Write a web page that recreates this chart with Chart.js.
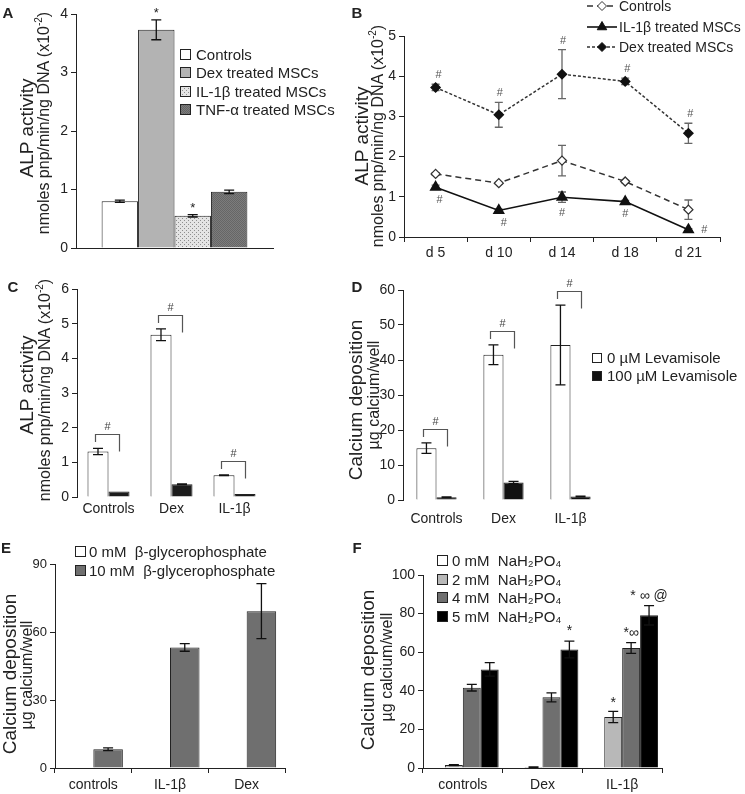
<!DOCTYPE html>
<html>
<head>
<meta charset="utf-8">
<script src="https://cdn.jsdelivr.net/npm/chart.js@4/dist/chart.umd.min.js"></script>
<style>
  body { margin: 0; background: #fff; }
  #fig { position: relative; width: 745px; height: 794px; overflow: hidden;
         font-family: "Liberation Sans", Arial, sans-serif; color: #222; }
  canvas { position: absolute; }
  .letter { position: absolute; font-weight: bold; font-size: 15px; transform: translate(-50%, -50%); }
  .yt { position: absolute; white-space: nowrap; transform: translate(-50%, -50%) rotate(-90deg); z-index: 2; }
  .big { font-size: 19px; }
  .small { font-size: 16px; }
  sup { font-size: 10px; }
</style>
</head>
<body>
<div id="fig">
  <canvas id="chartA" width="372" height="262" style="left:0;top:0"></canvas>
  <canvas id="chartB" width="373" height="262" style="left:372px;top:0"></canvas>
  <canvas id="chartC" width="372" height="264" style="left:0;top:262px"></canvas>
  <canvas id="chartD" width="373" height="264" style="left:372px;top:262px"></canvas>
  <canvas id="chartE" width="372" height="268" style="left:0;top:526px"></canvas>
  <canvas id="chartF" width="373" height="268" style="left:372px;top:526px"></canvas>

  <div class="letter" style="left:8px;top:12px">A</div>
  <div class="letter" style="left:357px;top:12px">B</div>
  <div class="letter" style="left:13px;top:286px">C</div>
  <div class="letter" style="left:357px;top:286px">D</div>
  <div class="letter" style="left:6px;top:547px">E</div>
  <div class="letter" style="left:357px;top:547px">F</div>

  <div class="yt big" style="left:27px;top:128px">ALP activity</div>
  <div class="yt small" style="left:43px;top:123px">nmoles pnp/min/ng DNA (x10<sup>-2</sup>)</div>
  <div class="yt big" style="left:362px;top:136px">ALP activity</div>
  <div class="yt small" style="left:377px;top:136px">nmoles pnp/min/ng DNA (x10<sup>-2</sup>)</div>
  <div class="yt big" style="left:27px;top:385px">ALP activity</div>
  <div class="yt small" style="left:44px;top:390px">nmoles pnp/min/ng DNA (x10<sup>-2</sup>)</div>
  <div class="yt big" style="left:356px;top:400px">Calcium deposition</div>
  <div class="yt small" style="left:374px;top:395px">µg calcium/well</div>
  <div class="yt big" style="left:10px;top:674px">Calcium deposition</div>
  <div class="yt small" style="left:27px;top:675px">µg calcium/well</div>
  <div class="yt big" style="left:368px;top:670px">Calcium deposition</div>
  <div class="yt small" style="left:387px;top:667px">µg calcium/well</div>
</div>

<script>
// A: ALP activity, one group of four treatments
const aSeries = ['Controls', 'Dex treated MSCs', 'IL-1β treated MSCs', 'TNF-α treated MSCs'];
const aValues = [0.80, 3.73, 0.55, 0.96];
const aErrors = [0.02, 0.17, 0.02, 0.03];
const aMarks = ['', '*', '*', ''];

// B: ALP activity over time
const bDays = ['d 5', 'd 10', 'd 14', 'd 18', 'd 21'];
const bSeries = ['Controls', 'IL-1β treated MSCs', 'Dex treated MSCs'];
const bControls = [1.57, 1.34, 1.90, 1.38, 0.68];
const bControlsErr = [0.03, 0.02, 0.38, 0.03, 0.24];
const bIL = [1.24, 0.66, 0.99, 0.88, 0.18];
const bILErr = [0.05, 0.03, 0.13, 0.03, 0.03];
const bDex = [3.72, 3.04, 4.05, 3.87, 2.58];
const bDexErr = [0.08, 0.31, 0.61, 0.08, 0.25];
const bILMarks = ['#', '#', '#', '#', '#'];
const bDexMarks = ['#', '#', '#', '#', '#'];

// C and D: levamisole
const cdGroups = ['Controls', 'Dex', 'IL-1β'];
const cdSeries = ['0 µM Levamisole', '100 µM Levamisole'];
const cNoLev = [1.31, 4.68, 0.63];
const cNoLevErr = [0.09, 0.17, 0.01];
const cLev = [0.16, 0.37, 0.09];
const cLevErr = [0, 0.01, 0];
const cMarks = ['#', '#', '#'];
const dNoLev = [14.8, 41.5, 44.3];
const dNoLevErr = [1.5, 2.8, 11.4];
const dLev = [0.8, 5.0, 1.0];
const dLevErr = [0.1, 0.3, 0.1];
const dMarks = ['#', '#', '#'];

// E: beta-glycerophosphate
const eGroups = ['controls', 'IL-1β', 'Dex'];
const eSeries = ['0 mM  β-glycerophosphate', '10 mM  β-glycerophosphate'];
const eZero = [0, 0, 0];
const eTen = [8.3, 53.2, 69.2];
const eTenErr = [0.6, 1.7, 12.1];

// F: phosphate
const fGroups = ['controls', 'Dex', 'IL-1β'];
const fSeries = ['0 mM  NaH₂PO₄', '2 mM  NaH₂PO₄', '4 mM  NaH₂PO₄', '5 mM  NaH₂PO₄'];
const f0 = [0, 0, 0];
const f2 = [1.5, 0.5, 26.4];
const f2Err = [0.2, 0.1, 2.9];
const f4 = [41.6, 36.6, 62.2];
const f4Err = [1.7, 2.3, 2.8];
const f5 = [51.1, 61.4, 79.1];
const f5Err = [3.5, 4.3, 5.0];
const f2Marks = ['', '', '*'];
const f4Marks = ['', '', '*∞'];
const f5Marks = ['', '*', '* ∞ @'];

const FONT = '"Liberation Sans", Arial, sans-serif';
Chart.defaults.font.family = FONT;
Chart.defaults.color = '#222';
Chart.defaults.animation = false;

function pattern(base, dot, step) {
  const c = document.createElement('canvas');
  c.width = step; c.height = step;
  const g = c.getContext('2d');
  g.fillStyle = base; g.fillRect(0, 0, step, step);
  g.fillStyle = dot;
  g.fillRect(0, 0, 1, 1);
  g.fillRect(step / 2, step / 2, 1, 1);
  return g.createPattern(c, 'repeat');
}

function yAxis(max, step, w, size) {
  return {
    min: 0, max: max,
    ticks: { stepSize: step, font: { size: size || 14 }, color: '#222', padding: 3 },
    grid: { drawOnChartArea: false, drawTicks: true, tickLength: 5, color: '#222' },
    border: { display: true, color: '#222' },
    afterFit: s => { s.width = w; }
  };
}

function xAxis(h, opts) {
  const o = opts || {};
  return {
    offset: true,
    ticks: { display: o.labels !== false, font: { size: 14 }, color: '#222', padding: o.pad || 3 },
    grid: o.ticks
      ? { offset: true, drawOnChartArea: false, drawTicks: true, tickLength: 5, color: '#222' }
      : { display: false, drawTicks: false },
    border: { display: o.line !== false, color: '#222' },
    afterFit: s => { s.height = h; }
  };
}

function options(pad, x, y) {
  return {
    responsive: false,
    animation: false,
    layout: { padding: pad },
    plugins: { legend: { display: false }, tooltip: { enabled: false } },
    scales: { x: x, y: y }
  };
}

// error bars from each dataset's err array
function makeErrBars(color, cap, behind) {
  const draw = chart => {
    const ctx = chart.ctx, y = chart.scales.y;
    ctx.save();
    ctx.strokeStyle = color;
    ctx.lineWidth = 1.3;
    chart.data.datasets.forEach((ds, di) => {
      if (!ds.err) return;
      chart.getDatasetMeta(di).data.forEach((el, i) => {
        const e = ds.err[i];
        if (!e) return;
        const top = y.getPixelForValue(ds.data[i] + e);
        const bot = y.getPixelForValue(ds.data[i] - e);
        ctx.beginPath();
        ctx.moveTo(el.x, top); ctx.lineTo(el.x, bot);
        ctx.moveTo(el.x - cap, top); ctx.lineTo(el.x + cap, top);
        ctx.moveTo(el.x - cap, bot); ctx.lineTo(el.x + cap, bot);
        ctx.stroke();
      });
    });
    ctx.restore();
  };
  return {
    id: 'errBars',
    beforeDatasetsDraw(chart) { if (behind) draw(chart); },
    afterDatasetsDraw(chart) { if (!behind) draw(chart); }
  };
}

// significance marks above (or below) the error bars
function makeMarks(items, font, color) {
  return {
    id: 'sigMarks',
    afterDatasetsDraw(chart) {
      const ctx = chart.ctx, y = chart.scales.y;
      ctx.save();
      ctx.font = font;
      ctx.fillStyle = color;
      ctx.textAlign = 'center';
      ctx.textBaseline = 'middle';
      items.forEach(it => {
        const ds = chart.data.datasets[it.ds];
        const meta = chart.getDatasetMeta(it.ds);
        it.marks.forEach((m, i) => {
          if (!m) return;
          const e = (ds.err && ds.err[i]) || 0;
          let py = it.below ? y.getPixelForValue(ds.data[i] - e) + it.gap
                            : y.getPixelForValue(ds.data[i] + e) - it.gap;
          if (it.dy) py += it.dy[i];
          ctx.fillText(m, meta.data[i].x + (it.dx ? it.dx[i] : 0), py);
        });
      });
      ctx.restore();
    }
  };
}

// bracket from the first bar to the second bar of each group
function makeBrackets(marks) {
  return {
    id: 'brackets',
    afterDatasetsDraw(chart) {
      const ctx = chart.ctx, y = chart.scales.y;
      const ds = chart.data.datasets[0];
      const m0 = chart.getDatasetMeta(0), m1 = chart.getDatasetMeta(1);
      ctx.save();
      ctx.strokeStyle = '#555';
      ctx.lineWidth = 1.2;
      ctx.fillStyle = '#444';
      ctx.font = '11px ' + FONT;
      ctx.textAlign = 'center';
      ctx.textBaseline = 'middle';
      marks.forEach((m, i) => {
        const x0 = Math.round(m0.data[i].x) - 2.5, x1 = Math.round(m1.data[i].x) + 0.5;
        const left = Math.round(y.getPixelForValue(ds.data[i] + (ds.err[i] || 0))) - 6;
        const top = left - 8 + 0.5;
        ctx.beginPath();
        ctx.moveTo(x0, left); ctx.lineTo(x0, top); ctx.lineTo(x1, top); ctx.lineTo(x1, top + 17);
        ctx.stroke();
        ctx.fillText(m, (x0 + x1) / 2, top - 8);
      });
      ctx.restore();
    }
  };
}

function makeLegend(o) {
  return {
    id: 'panelLegend',
    afterDraw(chart) {
      const ctx = chart.ctx;
      ctx.save();
      ctx.font = (o.size || 15) + 'px ' + FONT;
      ctx.textBaseline = 'middle';
      chart.data.datasets.forEach((ds, i) => {
        const y = Math.round(o.y + i * o.rowH);
        if (o.type === 'line') {
          ctx.strokeStyle = ds.borderColor;
          ctx.lineWidth = ds.borderWidth;
          ctx.setLineDash(ds.borderDash || []);
          ctx.beginPath(); ctx.moveTo(o.x, y); ctx.lineTo(o.x + 30, y); ctx.stroke();
          ctx.setLineDash([]);
          ctx.fillStyle = ds.pointBackgroundColor;
          ctx.strokeStyle = ds.pointBorderColor;
          ctx.lineWidth = 1;
          Chart.helpers.drawPoint(ctx, { pointStyle: ds.pointStyle, radius: ds.pointRadius, borderWidth: 1, rotation: 0 }, o.x + 15, y);
        } else {
          const t = y - Math.round(o.box / 2);
          ctx.fillStyle = ds.backgroundColor;
          ctx.fillRect(o.x, t, o.box, o.box);
          ctx.strokeStyle = '#222';
          ctx.lineWidth = 1;
          ctx.strokeRect(o.x + 0.5, t + 0.5, o.box - 1, o.box - 1);
        }
        ctx.fillStyle = '#222';
        ctx.fillText(ds.label, o.textX, y + 1);
      });
      ctx.restore();
    }
  };
}

function bar(label, data, err, color, cat) {
  return { label: label, data: data, err: err, backgroundColor: color, borderColor: '#222',
           borderWidth: 1, categoryPercentage: cat, barPercentage: 1 };
}

// ---- A ----
const aColors = ['#ffffff', '#b3b3b3', pattern('#e4e4e4', '#8e8e8e', 4), pattern('#7c7c7c', '#666666', 2)];
new Chart(document.getElementById('chartA'), {
  type: 'bar',
  data: {
    labels: [''],
    datasets: aSeries.map((s, i) => bar(s, [aValues[i]], [aErrors[i]], aColors[i], 0.74))
  },
  options: options({ left: 46, right: 99, top: 14, bottom: 0 },
    xAxis(14, { labels: false }), yAxis(4, 1, 30)),
  plugins: [makeErrBars('#111', 5, false),
            makeMarks(aSeries.map((s, i) => ({ ds: i, marks: [aMarks[i]], gap: 6 })), '13px ' + FONT, '#222'),
            makeLegend({ x: 180, y: 55, rowH: 18.3, box: 11, textX: 196 })]
});

// ---- B ----
new Chart(document.getElementById('chartB'), {
  type: 'line',
  data: {
    labels: bDays,
    datasets: [
      { label: bSeries[0], data: bControls, err: bControlsErr, borderColor: '#333', borderWidth: 1.5,
        borderDash: [6, 4], pointStyle: 'rectRot', pointRadius: 4.5, pointBackgroundColor: '#fff',
        pointBorderColor: '#333', pointBorderWidth: 1.3, tension: 0, fill: false },
      { label: bSeries[1], data: bIL, err: bILErr, borderColor: '#111', borderWidth: 1.6,
        pointStyle: 'triangle', pointRadius: 5.5, pointBackgroundColor: '#111',
        pointBorderColor: '#111', tension: 0, fill: false },
      { label: bSeries[2], data: bDex, err: bDexErr, borderColor: '#333', borderWidth: 1.5,
        borderDash: [3, 2], pointStyle: 'rectRot', pointRadius: 4.5, pointBackgroundColor: '#111',
        pointBorderColor: '#111', tension: 0, fill: false }
    ]
  },
  options: options({ left: 6, right: 25, top: 36, bottom: 0 },
    xAxis(25, { ticks: true }), yAxis(5, 1, 26)),
  plugins: [makeErrBars('#666', 4, true),
            makeMarks([
              { ds: 2, marks: bDexMarks, gap: 9, dx: [3, 1, 1, 2, 2] },
              { ds: 1, marks: bILMarks, below: true, gap: 11, dx: [4, 5, 0, 0, 16], dy: [0, 0, 0, 0, -12] }
            ], '11px ' + FONT, '#555'),
            makeLegend({ type: 'line', x: 215, y: 6, rowH: 20.5, textX: 247, size: 14 })]
});

// ---- C ----
new Chart(document.getElementById('chartC'), {
  type: 'bar',
  data: {
    labels: cdGroups,
    datasets: [bar(cdSeries[0], cNoLev, cNoLevErr, '#ffffff', 0.667),
               bar(cdSeries[1], cLev, cLevErr, '#1c1c1c', 0.667)]
  },
  options: options({ left: 47, right: 106, top: 27, bottom: 0 },
    xAxis(29, { line: false, pad: 4 }), yAxis(6, 1, 30)),
  plugins: [makeErrBars('#111', 5, false), makeBrackets(cMarks)]
});

// ---- D ----
new Chart(document.getElementById('chartD'), {
  type: 'bar',
  data: {
    labels: cdGroups,
    datasets: [bar(cdSeries[0], dNoLev, dNoLevErr, '#ffffff', 0.6),
               bar(cdSeries[1], dLev, dLevErr, '#111111', 0.6)]
  },
  options: options({ left: 5, right: 141, top: 28, bottom: 0 },
    xAxis(26, { line: false, pad: 11 }), yAxis(60, 10, 26)),
  plugins: [makeErrBars('#111', 5, false), makeBrackets(dMarks),
            makeLegend({ x: 220, y: 96, rowH: 18, box: 10, textX: 235 })]
});

// ---- E ----
new Chart(document.getElementById('chartE'), {
  type: 'bar',
  data: {
    labels: eGroups,
    datasets: [bar(eSeries[0], eZero, null, '#ffffff', 0.77),
               bar(eSeries[1], eTen, eTenErr, '#6f6f6f', 0.77)]
  },
  options: options({ left: 30, right: 87, top: 38, bottom: 0 },
    xAxis(26, { ticks: true, pad: 4 }), yAxis(90, 30, 25, 13)),
  plugins: [makeErrBars('#111', 5, false),
            makeLegend({ x: 75, y: 26, rowH: 19, box: 11, textX: 89 })]
});

// ---- F ----
new Chart(document.getElementById('chartF'), {
  type: 'bar',
  data: {
    labels: fGroups,
    datasets: [bar(fSeries[0], f0, null, '#ffffff', 0.9),
               bar(fSeries[1], f2, f2Err, '#b8b8b8', 0.9),
               bar(fSeries[2], f4, f4Err, '#6f6f6f', 0.9),
               bar(fSeries[3], f5, f5Err, '#000000', 0.9)]
  },
  options: options({ left: 18, right: 83, top: 49, bottom: 0 },
    xAxis(26, { ticks: true, pad: 4 }), yAxis(100, 20, 33)),
  plugins: [makeErrBars('#111', 5, false),
            makeMarks([
              { ds: 1, marks: f2Marks, gap: 8 },
              { ds: 2, marks: f4Marks, gap: 9 },
              { ds: 3, marks: f5Marks, gap: 10 }
            ], '14px ' + FONT, '#222'),
            makeLegend({ x: 65, y: 35, rowH: 18.7, box: 11, textX: 80 })]
});
</script>
</body>
</html>
